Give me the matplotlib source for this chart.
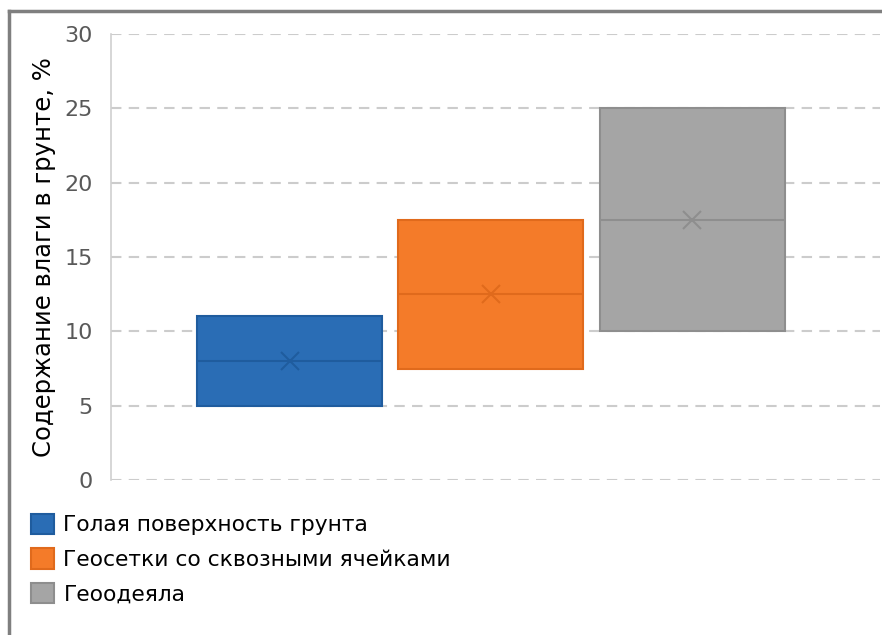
import matplotlib
matplotlib.use("Agg")
import matplotlib.pyplot as plt
from matplotlib.patches import Patch
from matplotlib.lines import Line2D

# data
labels = ["Голая поверхность грунта", "Геосетки со сквозными ячейками", "Геоодеяла"]
q1 = [5, 7.5, 10]
q3 = [11, 17.5, 25]
med = [8, 12.5, 17.5]
mean = [8, 12.5, 17.5]
yticks = [0, 5, 10, 15, 20, 25, 30]

fill_colors = ["#2A6DB5", "#F47B29", "#A5A5A5"]
edge_colors = ["#1F5C9E", "#E06A1C", "#8E8E8E"]

plt.rcParams["font.family"] = ["DejaVu Sans"]

fig = plt.figure(figsize=(8.82, 6.35), dpi=100)
ax = fig.add_axes([111 / 882, 1 - 480 / 635, (880 - 111) / 882, (480 - 34) / 635])

positions = [-1, 0, 1]
stats = []
for i in range(3):
    stats.append({"med": med[i], "q1": q1[i], "q3": q3[i],
                  "whislo": q1[i], "whishi": q3[i], "mean": mean[i], "fliers": []})

for i in range(3):
    ax.bxp([stats[i]], positions=[positions[i]], widths=0.92, patch_artist=True,
           showmeans=True, showcaps=False,
           boxprops=dict(facecolor=fill_colors[i], edgecolor=edge_colors[i], linewidth=1.5),
           medianprops=dict(color=edge_colors[i], linewidth=1.5),
           whiskerprops=dict(linewidth=0),
           meanprops=dict(marker="x", markersize=13, markeredgecolor=edge_colors[i],
                          markeredgewidth=1.5),
           zorder=3)

ax.set_xlim(-1.89, 1.935)
ax.set_ylim(0, 30)
ax.set_yticks(yticks)
ax.set_yticklabels([str(t) for t in yticks], fontsize=16, color="#595959")
ax.set_xticks([])
ax.tick_params(axis="y", length=0, pad=13)
ax.yaxis.grid(True, color="#CCCCCC", linestyle=(0, (5, 3.5)), linewidth=1.5)
ax.set_axisbelow(True)
for s in ["top", "right", "bottom"]:
    ax.spines[s].set_visible(False)
ax.spines["left"].set_color("#D0D0D0")
ax.spines["left"].set_linewidth(1.2)
ax.set_ylabel("Содержание влаги в грунте, %", fontsize=17.5, color="black", labelpad=6)

handles = [Patch(facecolor=fill_colors[i], edgecolor=edge_colors[i], linewidth=1.5)
           for i in range(3)]
fig.legend(handles, labels, loc="upper left", bbox_to_anchor=(22 / 882, 1 - 505 / 635),
           frameon=False, fontsize=15.7, handlelength=1.05, handleheight=1.05,
           handletextpad=0.45, labelspacing=0.6, borderaxespad=0)

# outer frame of the screenshot
fig.add_artist(Line2D([9 / 882, 9 / 882], [0, 1 - 11 / 635], color="#7F7F7F", linewidth=2.5))
fig.add_artist(Line2D([9 / 882, 1], [1 - 11 / 635, 1 - 11 / 635], color="#7F7F7F", linewidth=2.5))

fig.savefig("out.png", dpi=100)
